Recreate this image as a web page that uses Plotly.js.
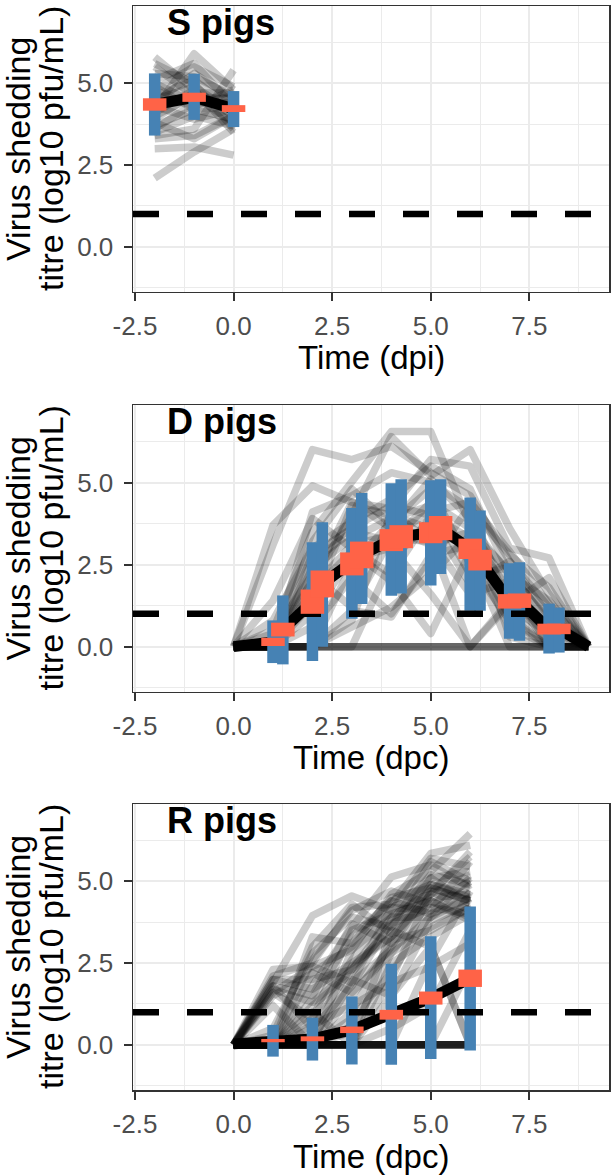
<!DOCTYPE html>
<html><head><meta charset="utf-8">
<script src="https://cdn.plot.ly/plotly-3.0.1.min.js"></script>
<style>html,body{margin:0;padding:0;background:#fff} path.js-line{stroke-linejoin:round}</style>
</head><body><div id="chart" style="width:614px;height:1175px"></div>
<script>
// ---------- data ----------
const X_RANGE = [-2.55, 9.52];
const Y_RANGE = [-1.38, 7.36];
const X_TICKS = [-2.5, 0, 2.5, 5, 7.5];
const X_TICKTEXT = ['-2.5', '0.0', '2.5', '5.0', '7.5'];
const Y_TICKS = [0, 2.5, 5];
const Y_TICKTEXT = ['0.0', '2.5', '5.0'];
const LOD = 1;

const panelTitles = ['S pigs', 'D pigs', 'R pigs'];
const xTitles = ['Time (dpi)', 'Time (dpc)', 'Time (dpc)'];
const yTitleLines = ['Virus shedding', 'titre (log10 pfu/mL)'];

// S pigs
const sDays = [-2, -1, 0];
const sPigs = [
  [2.1, 2.9, 3.6], [3.0, 3.05, 2.8], [5.8, 4.8, 4.0], [5.6, 5.0, 3.6], [4.2, 5.9, 4.8],
  [3.4, 3.6, 5.4], [3.3, 3.4, 4.0], [4.8, 5.5, 4.9], [5.0, 4.4, 4.4], [4.0, 4.6, 4.5],
  [4.5, 4.9, 4.1], [3.7, 4.2, 4.3], [4.9, 4.2, 3.9], [5.3, 5.2, 4.6], [4.3, 3.9, 4.2],
  [3.9, 4.7, 4.7], [4.6, 5.1, 4.2], [5.5, 4.6, 3.8], [3.6, 4.4, 4.6], [4.4, 5.3, 4.5],
  [3.5, 4.0, 3.7], [4.7, 4.3, 4.8], [5.1, 5.6, 4.3], [4.1, 4.8, 3.5], [3.8, 3.3, 4.0]
];
const sMeanX = [-2, -1, 0];
const sMean = [4.35, 4.57, 4.22];
const sSumX = [-2, -1, 0];
const sBlueLo = [3.40, 3.88, 3.66];
const sBlueHi = [5.30, 5.29, 4.76];
const sOrangeLo = [4.16, 4.43, 4.12];
const sOrangeHi = [4.54, 4.71, 4.33];

// D pigs
const dDays = [0, 1, 2, 3, 4, 5, 6, 7, 8, 9];
const dPigs = [
  [0, 3.1, 6.0, 5.7, 6.1, 5.3, 4.6, 2.6, 1.2, 0],
  [0, 0.5, 3.5, 5.0, 6.55, 6.55, 3.7, 2.2, 0.8, 0],
  [0, 0, 2.0, 4.0, 6.4, 5.2, 6.0, 3.6, 1.6, 0],
  [0, 3.7, 4.9, 4.4, 4.2, 5.7, 5.5, 3.0, 2.7, 0],
  [0, 0, 4.1, 4.6, 5.3, 5.0, 4.2, 2.8, 1.8, 0],
  [0, 0.8, 3.0, 3.8, 4.5, 5.5, 4.8, 2.2, 1.4, 0],
  [0, 0, 2.6, 3.5, 3.2, 4.4, 3.6, 1.8, 0.6, 0],
  [0, 0, 1.3, 4.3, 4.0, 3.6, 3.0, 1.5, 0.3, 0],
  [0, 0, 0, 2.5, 3.8, 4.8, 2.5, 0.8, 0, 0],
  [0, 0.4, 2.2, 1.2, 3.3, 3.2, 0, 1.4, 0.5, 0],
  [0, 1.4, 3.9, 3.0, 2.2, 4.0, 2.8, 0, 0, 0],
  [0, 0, 0.6, 2.1, 1.0, 2.6, 4.3, 1.1, 0, 0],
  [0, 0, 0, 0.8, 4.1, 3.2, 1.6, 2.0, 0, 0],
  [0, 0, 1.7, 2.9, 2.0, 0.4, 2.9, 0.6, 0, 0],
  [0, 0, 3.2, 4.8, 3.7, 5.1, 3.9, 0.3, 0, 0],
  [0, 0, 2.4, 3.3, 3.9, 4.3, 2.2, 2.4, 1.0, 0],
  [0, 0, 0, 1.1, 0.9, 2.8, 3.1, 0.9, 0, 0],
  [0, 0, 0, 0, 2.6, 3.9, 1.9, 2.6, 0.9, 0],
  [0, 0, 1.0, 2.7, 3.0, 1.6, 0, 1.3, 2.1, 0],
  [0, 0, 0, 0.6, 1.2, 2.2, 3.4, 1.7, 0, 0],
  [0, 0.2, 2.0, 4.4, 3.6, 3.1, 3.5, 2.3, 0.7, 0],
  [0, 0, 1.8, 3.1, 3.4, 4.1, 4.4, 2.9, 1.3, 0],
  [0, 0, 2.8, 3.6, 4.3, 4.0, 3.3, 1.2, 0.4, 0],
  [0, 0, 0, 0, 0, 0, 0, 0, 0, 0],
  [0, 0, 0, 0, 0, 0, 0, 0, 0, 0],
  [0, 0, 0, 0, 0, 0, 0, 0, 0, 0],
  [0, 0, 0, 0, 0, 0, 0, 0, 0, 0]
];
const dMeanX = [0, 1, 1.25, 2, 2.25, 3, 3.25, 4, 4.25, 5, 5.25, 6, 6.25, 7, 7.25, 8, 8.25, 9];
const dMean = [0, 0.14, 0.52, 1.37, 1.91, 2.52, 2.8, 3.25, 3.35, 3.47, 3.6, 2.98, 2.63, 1.38, 1.4, 0.53, 0.54, 0];
const dSumX = [1, 1.25, 2, 2.25, 3, 3.25, 4, 4.25, 5, 5.25, 6, 6.25, 7, 7.25, 8, 8.25];
const dBlueLo = [-0.5, -0.54, -0.44, 0.0, 0.85, 1.3, 1.55, 1.62, 1.86, 2.21, 1.09, 1.09, 0.24, 0.18, -0.21, -0.18];
const dBlueHi = [0.8, 1.56, 3.18, 3.79, 4.22, 4.68, 4.98, 5.1, 5.07, 5.1, 4.54, 4.15, 2.54, 2.57, 1.31, 1.19];
const dOrangeLo = [0.02, 0.31, 1.0, 1.5, 2.17, 2.39, 2.91, 3.0, 3.15, 3.24, 2.67, 2.32, 1.16, 1.18, 0.37, 0.38];
const dOrangeHi = [0.27, 0.73, 1.74, 2.32, 2.87, 3.2, 3.58, 3.7, 3.79, 3.98, 3.29, 2.95, 1.6, 1.62, 0.7, 0.7];

// R pigs
const rDays = [0, 1, 2, 3, 4, 5, 6];
const rPigs = [
  [0, 2.3, 2.4, 2.9, 4.6, 5.3, 6.45],
  [0, 2.1, 2.5, 4.2, 4.3, 5.85, 6.1],
  [0, 1.9, 3.95, 4.55, 4.1, 5.7, 5.45],
  [0, 1.7, 1.3, 2.3, 3.9, 4.7, 5.75],
  [0, 1.6, 0.8, 2.6, 4.2, 4.1, 5.6],
  [0, 0.3, 3.0, 4.3, 3.4, 5.1, 5.3],
  [0, 0, 2.6, 4.1, 4.7, 4.3, 5.0],
  [0, 0, 1.8, 3.6, 5.13, 5.5, 4.8],
  [0, 0, 0.5, 2.4, 3.3, 4.5, 4.6],
  [0, 0, 0, 1.5, 3.0, 4.8, 4.4],
  [0, 0, 2.2, 1.6, 2.8, 3.6, 4.2],
  [0, 0, 0, 0.8, 2.2, 4.0, 4.5],
  [0, 0, 1.0, 0, 2.5, 3.3, 4.0],
  [0, 0, 0, 2.9, 3.9, 3.9, 4.9],
  [0, 0, 0, 0, 1.5, 3.8, 4.3],
  [0, 0, 0, 0, 0, 2.6, 4.7],
  [0, 0, 0, 0, 0.5, 1.2, 3.5],
  [0, 1.2, 0, 0, 3.5, 3.0, 0],
  [0, 0, 0.2, 2.0, 1.5, 3.0, 0],
  [0, 0, 0, 0, 0, 0, 2.4],
  [0, 0, 0, 0, 2.0, 4.7, 4.1],
  [0, 0, 1.4, 3.3, 4.4, 4.0, 5.1],
  [0, 2.0, 2.0, 2.3, 3.6, 5.6, 5.0],
  [0, 0, 0.8, 3.5, 4.0, 4.4, 3.9],
  [0, 0, 0, 1.0, 3.2, 3.5, 4.2],
  [0, 1.8, 1.5, 3.7, 3.1, 4.9, 4.5],
  [0, 1.5, 2.2, 3.0, 4.4, 4.9, 4.6],
  [0, 2.0, 1.7, 2.5, 3.3, 4.6, 5.2],
  [0, 1.8, 0.5, 1.8, 3.8, 5.2, 4.9],
  [0, 0, 3.3, 3.1, 4.5, 4.8, 4.4],
  [0, 0, 1.2, 2.2, 3.7, 4.2, 4.0],
  [0, 0, 0, 1.9, 4.2, 4.6, 5.9],
  [0, 0.5, 2.8, 3.9, 3.6, 5.1, 4.3],
  [0, 0, 0, 0.4, 2.8, 4.4, 3.8],
  [0, 1.6, 2.4, 1.9, 2.9, 3.9, 4.5],
  [0, 0, 0.6, 1.2, 1.9, 2.4, 3.1],
  [0, 0, 0, 0, 0, 0, 0], [0, 0, 0, 0, 0, 0, 0], [0, 0, 0, 0, 0, 0, 0],
  [0, 0, 0, 0, 0, 0, 0], [0, 0, 0, 0, 0, 0, 0], [0, 0, 0, 0, 0, 0, 0],
  [0, 0, 0, 0, 0, 0, 0], [0, 0, 0, 0, 0, 0, 0], [0, 0, 0, 0, 0, 0, 0]
];
const rMeanX = [0, 1, 2, 3, 4, 5, 6];
const rMean = [0.03, 0.13, 0.18, 0.46, 0.92, 1.43, 2.03];
const rSumX = [1, 2, 3, 4, 5, 6];
const rBlueLo = [-0.36, -0.48, -0.6, -0.61, -0.43, -0.17];
const rBlueHi = [0.61, 0.83, 1.48, 2.48, 3.32, 4.23];
const rOrangeLo = [0.08, 0.11, 0.36, 0.77, 1.23, 1.77];
const rOrangeHi = [0.18, 0.26, 0.56, 1.07, 1.63, 2.3];

// ---------- build ----------
const FONT = 'Liberation Sans, Arial, sans-serif';
const GREY = 'rgba(0,0,0,0.2)';
const BLUE = '#4682B4';
const ORANGE = '#FF6347';

function segs(xs, lo, hi) {
  const x = [], y = [];
  for (let i = 0; i < xs.length; i++) { x.push(xs[i], xs[i], null); y.push(lo[i], hi[i], null); }
  return {x, y};
}

const panels = [
  {days: sDays, pigs: sPigs, mx: sMeanX, my: sMean, sx: sSumX, bl: sBlueLo, bh: sBlueHi, ol: sOrangeLo, oh: sOrangeHi},
  {days: dDays, pigs: dPigs, mx: dMeanX, my: dMean, sx: dSumX, bl: dBlueLo, bh: dBlueHi, ol: dOrangeLo, oh: dOrangeHi},
  {days: rDays, pigs: rPigs, mx: rMeanX, my: rMean, sx: rSumX, bl: rBlueLo, bh: rBlueHi, ol: rOrangeLo, oh: rOrangeHi}
];

const traces = [];
panels.forEach((p, k) => {
  const xa = k === 0 ? 'x' : 'x' + (k + 1);
  const ya = k === 0 ? 'y' : 'y' + (k + 1);
  p.pigs.forEach(v => traces.push({type: 'scatter', mode: 'lines', x: p.days, y: v, xaxis: xa, yaxis: ya,
    line: {color: GREY, width: 7.5}, hoverinfo: 'skip', showlegend: false}));
  traces.push({type: 'scatter', mode: 'lines', x: p.mx, y: p.my, xaxis: xa, yaxis: ya,
    line: {color: '#000', width: 11}, hoverinfo: 'skip', showlegend: false});
  const b = segs(p.sx, p.bl, p.bh);
  traces.push({type: 'scatter', mode: 'lines', x: b.x, y: b.y, xaxis: xa, yaxis: ya, connectgaps: false,
    line: {color: BLUE, width: 11.5}, hoverinfo: 'skip', showlegend: false});
  traces.push({type: 'scatter', mode: 'lines', x: X_RANGE, y: [LOD, LOD], xaxis: xa, yaxis: ya,
    line: {color: '#000', width: 6.5, dash: '26px,28px'}, hoverinfo: 'skip', showlegend: false});
  const o = segs(p.sx, p.ol, p.oh);
  traces.push({type: 'scatter', mode: 'lines', x: o.x, y: o.y, xaxis: xa, yaxis: ya, connectgaps: false,
    line: {color: ORANGE, width: 23.5}, hoverinfo: 'skip', showlegend: false});
});

const domains = [[0.7362, 1.0], [0.3672, 0.6319], [0.0, 0.2638]];
const layout = {
  width: 614, height: 1175,
  margin: {l: 133, r: 5, t: 6, b: 85},
  paper_bgcolor: '#fff', plot_bgcolor: '#fff',
  showlegend: false,
  font: {family: FONT},
  annotations: [],
  hovermode: false
};
domains.forEach((d, k) => {
  const sx = k === 0 ? 'xaxis' : 'xaxis' + (k + 1);
  const sy = k === 0 ? 'yaxis' : 'yaxis' + (k + 1);
  const ya = k === 0 ? 'y' : 'y' + (k + 1);
  const common = {
    ticks: 'outside', ticklen: 8, tickwidth: 2, tickcolor: '#333',
    showline: true, mirror: true, linecolor: '#333', linewidth: 1.5,
    showgrid: true, gridcolor: '#ebebeb', gridwidth: 2, zeroline: false,
    tickfont: {family: FONT, size: 26, color: '#4d4d4d'},
    tickmode: 'array',
    minor: {tickmode: 'linear', tick0: 0, dtick: 1.25, showgrid: true, gridcolor: '#ebebeb', gridwidth: 1, ticks: ''}
  };
  layout[sx] = Object.assign({}, common, {
    domain: [0, 1], anchor: ya, range: X_RANGE, tickvals: X_TICKS, ticktext: X_TICKTEXT,
    ticklabelstandoff: 2
  });
  layout[sy] = Object.assign({}, common, {
    domain: d, anchor: k === 0 ? 'x' : 'x' + (k + 1), range: Y_RANGE, tickvals: Y_TICKS, ticktext: Y_TICKTEXT,
    ticklabelstandoff: 5
  });
  layout.annotations.push({text: xTitles[k], xref: 'paper', x: 0.5, xanchor: 'center',
    yref: ya + ' domain', y: 0, yanchor: 'middle', yshift: -66, showarrow: false,
    font: {family: FONT, size: 33, color: '#000'}});
  layout.annotations.push({text: '<b>' + panelTitles[k] + '</b>', xref: 'paper', x: 0, xshift: 32, xanchor: 'left',
    yref: ya + ' domain', y: 1, yanchor: 'top', yshift: 6, showarrow: false,
    font: {family: FONT, size: 36, color: '#000'}});
  layout.annotations.push({text: yTitleLines[0], xref: 'paper', x: 0, xshift: -115, xanchor: 'center',
    yref: ya + ' domain', y: 0.5, yanchor: 'middle', textangle: -90, showarrow: false,
    font: {family: FONT, size: 34, color: '#000'}});
  layout.annotations.push({text: yTitleLines[1], xref: 'paper', x: 0, xshift: -82, xanchor: 'center',
    yref: ya + ' domain', y: 0.5, yanchor: 'middle', textangle: -90, showarrow: false,
    font: {family: FONT, size: 34, color: '#000'}});
});

Plotly.newPlot('chart', traces, layout, {staticPlot: true, displayModeBar: false});
</script>
</body></html>
